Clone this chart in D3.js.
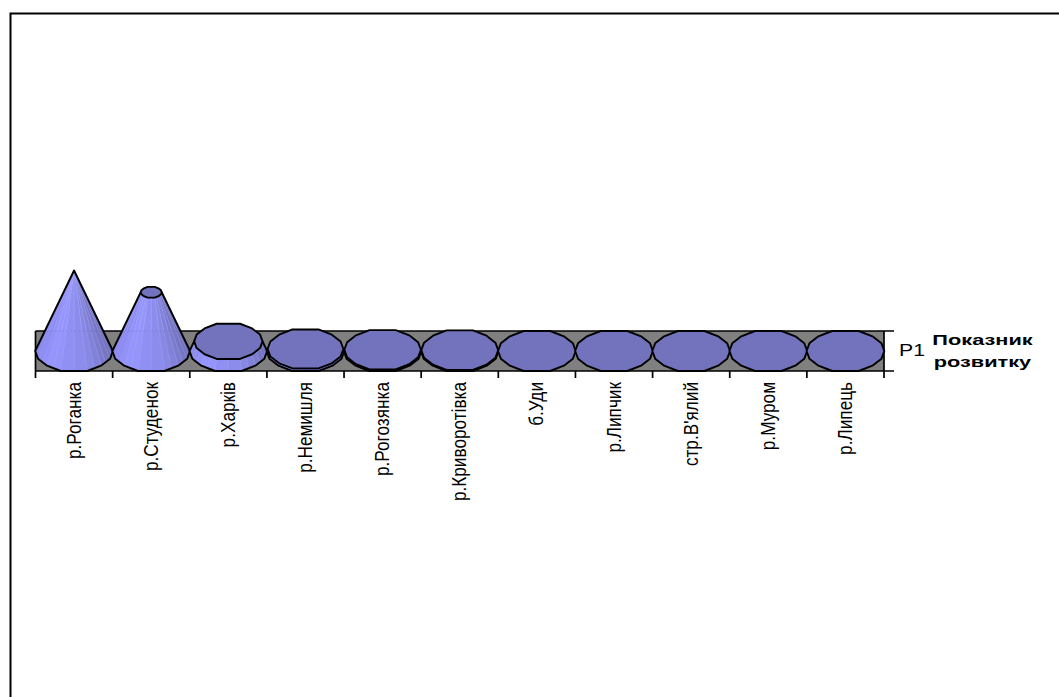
<!DOCTYPE html>
<html lang="uk">
<head>
<meta charset="utf-8">
<script src="https://cdn.jsdelivr.net/npm/d3@7/dist/d3.min.js"></script>
<style>
html,body{margin:0;padding:0;background:#fff;overflow:hidden}
svg{display:block}
text{font-family:"Liberation Sans",Arial,sans-serif;fill:#000}
</style>
</head>
<body>
<svg id="chart" width="1059" height="697"></svg>
<script>
// Development indicator per river, drawn as faceted 3D cones
const categories = ["р.Роганка","р.Студенок","р.Харків","р.Немишля","р.Рогозянка","р.Криворотівка","б.Уди","р.Липчик","стр.В'ялий","р.Муром","р.Липець"];
const values = [1, 0.73, 0.12, 0.025, 0.015, 0.01, 0, 0, 0, 0, 0];
const seriesName = "P1";
const titleLines = ["Показник","розвитку"];

const svg = d3.select("#chart");
const W = 1059, H = 697;
const plot = {left:35.5, right:884, floorTop:331, floorBottom:371};
const baseY = (plot.floorTop + plot.floorBottom) / 2;
const ringRy = 20;
// Facet corners of the cone's base, in degrees over the front half; wide flat at the bottom
const ringDegrees = [0, 22, 46, 70, 110, 134, 158];
const half = ringDegrees.length;

const x = d3.scaleBand().domain(categories).range([plot.left, plot.right]).padding(0);
const y = d3.scaleLinear().domain([0, 1]).range([baseY, 270.5]);

// Chart frame: only the top and left edges fall inside the page
svg.append("path").attr("d", `M10.5,${H} V13.5 H${W}`)
  .attr("fill","none").attr("stroke","#000").attr("stroke-width",2);

// Grey series floor and its rules
svg.append("rect").attr("x",plot.left).attr("y",plot.floorTop)
  .attr("width",plot.right-plot.left).attr("height",plot.floorBottom-plot.floorTop)
  .attr("fill","#808080");
const rules = svg.append("g").attr("stroke","#000").attr("stroke-width",1.7).attr("fill","none");
rules.append("path").attr("d",`M${plot.left},${plot.floorTop} H${plot.right+10}`);
rules.append("path").attr("d",`M${plot.left},${plot.floorBottom} H${plot.right+10}`);
rules.append("path").attr("d",`M${plot.left},${plot.floorTop} V${plot.floorBottom}`);
rules.append("path").attr("d",`M${plot.right},${plot.floorTop} V${plot.floorBottom}`);

// Category ticks at band edges
const tickEdges = categories.map(c => x(c)).concat(plot.right);
rules.selectAll("line.tick").data(tickEdges).join("line").attr("class","tick")
  .attr("x1",d=>d).attr("x2",d=>d).attr("y1",plot.floorBottom).attr("y2",plot.floorBottom+7);

// Polygonal ring: corners on the horizontal axis, flats at top and bottom
function ring(cx, cy, rx, ry) {
  const flatLift = 1 / Math.sin(70 * Math.PI / 180);
  const point = (deg, sign) => {
    const a = deg * Math.PI / 180;
    const lift = deg === 70 || deg === 110 ? flatLift : 1.02;
    return [cx + rx * Math.cos(a), cy + sign * ry * lift * Math.sin(a)];
  };
  const lower = ringDegrees.map(deg => point(deg, 1));
  const upper = ringDegrees.slice(1).map(deg => point(deg, -1)).reverse();
  return lower.concat([[cx - rx, cy]], upper);
}
const lerp = (p, q, t) => [p[0] + (q[0]-p[0])*t, p[1] + (q[1]-p[1])*t];
const shade = d3.scaleLinear()
  .domain([0, 0.12, 0.4, 0.62, 0.85, 1])
  .range(["#6d6db4","#7474c2","#8b8bea","#9696ff","#8a8af0","#8282e0"]);
const poly = d3.line();

categories.forEach((c, i) => {
  const v = values[i];
  const cx = x(c) + x.bandwidth()/2, rx = x.bandwidth()/2 + 0.3;
  const g = svg.append("g");
  const bottom = ring(cx, baseY, rx, ringRy);
  const f = 1 - v;
  const top = ring(cx, y(v), rx*f, ringRy*f);

  // Front half of the side surface, each edge split into shaded strips
  if (v > 0) {
    const strips = 2;
    for (let e = 0; e < half; e++) {
      const next = e + 1;
      for (let s = 0; s < strips; s++) {
        const t0 = s/strips, t1 = (s+1)/strips;
        const b0 = lerp(bottom[e], bottom[next], t0), b1 = lerp(bottom[e], bottom[next], t1);
        const u0 = lerp(top[e], top[next], t0), u1 = lerp(top[e], top[next], t1);
        const tone = shade((e + t0) / half);
        g.append("path").attr("d", poly([b0,b1,u1,u0])+"Z")
          .attr("fill", tone).attr("stroke", tone).attr("stroke-width",0.5);
        g.append("line").attr("x1",b0[0]).attr("y1",b0[1]).attr("x2",u0[0]).attr("y2",u0[1])
          .attr("stroke","#b4b4ff").attr("stroke-width",0.5).attr("stroke-opacity",0.55);
      }
    }
    // Silhouette of the body
    const lower = d3.range(half+1).map(k => bottom[k]);
    g.append("path").attr("d", poly(lower.concat([top[half], top[0]]))+"Z")
      .attr("fill","none").attr("stroke","#000").attr("stroke-width",1.9).attr("stroke-linejoin","round");
  }
  // Flat cap
  if (v < 1) {
    g.append("path").attr("d", poly(top)+"Z")
      .attr("fill","#7373bd").attr("stroke","#000").attr("stroke-width",1.9).attr("stroke-linejoin","round");
  }
  // Faint back gridline seen through the solid
  if (v > 0.5) {
    g.append("line").attr("x1",cx-rx*0.6).attr("x2",cx+rx*0.6).attr("y1",plot.floorTop).attr("y2",plot.floorTop)
      .attr("stroke","#5a5aa0").attr("stroke-width",0.6).attr("stroke-dasharray","1 3").attr("stroke-opacity",0.6);
  }
});

// Rotated category labels, hanging from just under the ticks
svg.append("g").selectAll("text").data(categories).join("text")
  .attr("transform", d => `translate(${x(d)+x.bandwidth()/2+6.5},382) rotate(-90) scale(0.86,1)`)
  .attr("text-anchor","end").attr("font-size",20).text(d => d);

// Series name on the depth axis
svg.append("text").attr("transform","translate(899,356) scale(1.25,1)").attr("font-size",17).text(seriesName);

// Axis title, horizontally widened
svg.append("g").selectAll("text").data(titleLines).join("text")
  .attr("transform",(d,i)=>`translate(982.5,${345+i*22}) scale(1.45,1)`)
  .attr("text-anchor","middle").attr("font-size",15).attr("font-weight","bold").text(d=>d);
</script>
</body>
</html>
